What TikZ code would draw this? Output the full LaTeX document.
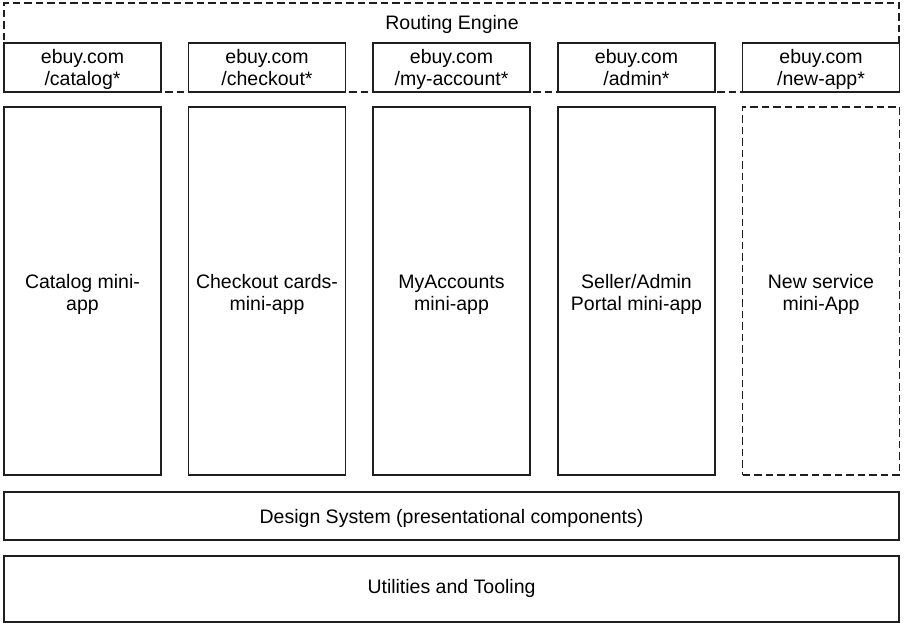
\documentclass[tikz,border=0pt]{standalone}
\usepackage{fontspec}
\setmainfont{Liberation Sans}
% vertical padding helpers: first-line height, last-line depth
\newcommand\padtxt[3]{\rule{0pt}{#1}#3\rule[-#2]{0pt}{#2}}
\newcommand\padroute[1]{\padtxt{18.4pt}{5pt}{#1}}
\newcommand\padmini[1]{\padtxt{21pt}{5pt}{#1}}
\newcommand\paddes[1]{\padtxt{19.5pt}{5pt}{#1}}
\newcommand\padutil[1]{\padtxt{15pt}{6.5pt}{#1}}
\begin{document}
\begin{tikzpicture}[x=1pt,y=-1pt,
  every node/.style={font=\fontsize{19.5}{22}\selectfont, align=center, inner sep=0pt},
  box/.style={draw=black!88, line width=1.5pt, fill=white},
  dbox/.style={draw=black!88, line width=1.5pt, dash pattern=on 7.5pt off 4pt, fill=white},
  route/.style={box, minimum width=157pt, minimum height=49pt},
  mini/.style={box, minimum width=157pt, minimum height=368pt},
  layer/.style={box, minimum width=895pt}
]
\useasboundingbox (0,0) rectangle (904,626);
\fill[white] (0,0) rectangle (904,626);
% routing engine
\node[dbox, minimum width=895pt, minimum height=89pt] (re) at (451.5,47.5) {};
\node[anchor=base] (retxt) at (452,29.3) {Routing Engine};
% routes
\node[route] (r1) at (82.5,67.5) {\padroute{ebuy.com\\/catalog*}};
\node[route] (r2) at (267,67.5) {\padroute{ebuy.com\\/checkout*}};
\node[route] (r3) at (451.5,67.5) {\padroute{ebuy.com\\/my-account*}};
\node[route] (r4) at (636.5,67.5) {\padroute{ebuy.com\\/admin*}};
\node[route] (r5) at (821,67.5) {\padroute{ebuy.com\\/new-app*}};
% mini apps
\node[mini] (m1) at (82.5,291) {\padmini{Catalog mini-\\app}};
\node[mini] (m2) at (267,291) {\padmini{Checkout cards-\\mini-app}};
\node[mini] (m3) at (451.5,291) {\padmini{MyAccounts\\mini-app}};
\node[mini] (m4) at (636.5,291) {\padmini{Seller/Admin\\Portal mini-app}};
\node[dbox, minimum width=157pt, minimum height=368pt] (m5) at (821,291) {\padmini{New service\\mini-App}};
% layers
\node[layer, minimum height=48pt] (ds) at (451.5,516) {\paddes{Design System (presentational components)}};
\node[layer, minimum height=66pt] (ut) at (451.5,589) {\padutil{Utilities and Tooling}};
\end{tikzpicture}
\end{document}
